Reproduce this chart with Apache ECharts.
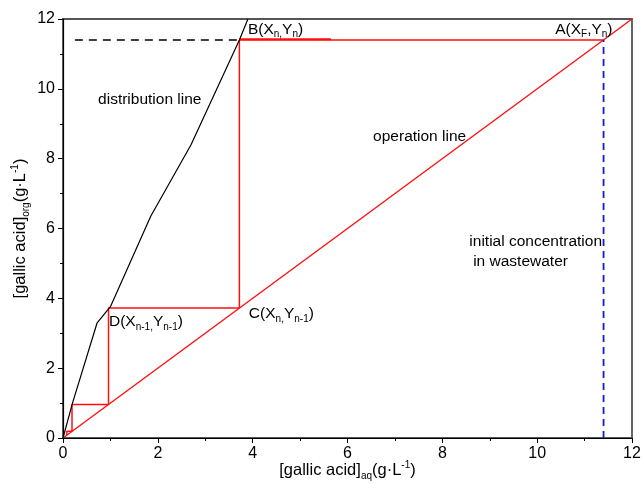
<!DOCTYPE html>
<html>
<head>
<meta charset="utf-8">
<script src="https://cdn.jsdelivr.net/npm/echarts@6/dist/echarts.min.js"></script>
<style>
  html, body { margin: 0; padding: 0; background: #fff; }
  #chart { width: 642px; height: 485px; }
</style>
</head>
<body>
<div id="chart"></div>
<script>
// distribution line (black)
const distLine = [[0, 0], [0.2, 1], [0.72, 3.3], [1.0, 3.76], [1.85, 6.35], [2.7, 8.4], [3.72, 11.4], [3.9, 12]]
// operation line (red diagonal)
const opLine = [[0, 0], [12, 12]]
// stage construction (red steps)
const steps = [[11.4, 11.4], [3.72, 11.4], [3.72, 3.72], [0.96, 3.72], [0.96, 0.96], [0.19, 0.96], [0.19, 0.19], [0.08, 0.19], [0.08, 0.08]]
const stepBold = [[3.72, 11.42], [5.65, 11.42]]
// dashed helpers
const yDash = [[0.25, 11.4], [3.72, 11.4]]
const xDash = [[11.4, 0], [11.4, 11.4]]
// text annotations
const notes = [
  { name: 'distribution line', value: [0.74, 9.68] },
  { name: 'operation line', value: [6.54, 8.62] },
  { name: 'B(X{sub|n,}Y{sub|n})', value: [3.9, 11.7] },
  { name: 'A(X{sub|F},Y{sub|n})', value: [10.38, 11.7] },
  { name: 'C(X{sub|n,}Y{sub|n-1})', value: [3.92, 3.55] },
  { name: 'D(X{sub|n-1,}Y{sub|n-1})', value: [0.97, 3.32] },
  { name: 'initial concentration', value: [8.57, 5.62] },
  { name: 'in wastewater', value: [8.65, 5.04] }
]

const font = 'Liberation Sans, Arial, sans-serif'
const myChart = echarts.init(document.getElementById('chart'))

const axisCommon = {
  type: 'value',
  min: 0,
  max: 12,
  interval: 2,
  axisLine: { show: true, lineStyle: { color: '#000', width: 1.2 } },
  axisTick: { show: true, inside: false, length: 5, lineStyle: { color: '#000' } },
  minorTick: { show: true, splitNumber: 2, length: 3, lineStyle: { color: '#000' } },
  splitLine: { show: false },
  axisLabel: { color: '#000', fontSize: 16, fontFamily: font },
  nameLocation: 'middle',
  nameMoveOverlap: false,
  nameTextStyle: {
    color: '#000', fontSize: 16.5, fontFamily: font,
    rich: {
      sub: { fontSize: 10, fontFamily: font, color: '#000', verticalAlign: 'bottom', padding: [11, 0, 0, 0] },
      sup: { fontSize: 10, fontFamily: font, color: '#000', verticalAlign: 'top', padding: [0, 0, 9, 0] }
    }
  }
}

const option = {
  animation: false,
  grid: {
    left: 63, right: 10, top: 19, bottom: 47,
    outerBoundsMode: 'none',
    containLabel: false,
    show: true, borderColor: '#555', borderWidth: 1.8
  },
  xAxis: Object.assign({}, axisCommon, {
    name: '[gallic acid]{sub|aq}(g·L{sup|-1})',
    nameGap: 22
  }),
  yAxis: Object.assign({}, axisCommon, {
    name: '[gallic acid]{sub|org}(g·L{sup|-1})',
    nameGap: 32
  }),
  series: [
    {
      type: 'line', data: opLine, symbol: 'none',
      lineStyle: { color: '#ff1010', width: 1.4 }
    },
    {
      type: 'line', data: steps, symbol: 'none',
      lineStyle: { color: '#ff1010', width: 1.5 }
    },
    {
      type: 'line', data: stepBold, symbol: 'none',
      lineStyle: { color: '#ff1010', width: 2 }
    },
    {
      type: 'line', data: distLine, symbol: 'none',
      lineStyle: { color: '#000', width: 1.2 }
    },
    {
      type: 'line', data: yDash, symbol: 'none',
      lineStyle: { color: '#000', width: 1.6, type: [8, 6] }
    },
    {
      type: 'line', data: xDash, symbol: 'none',
      lineStyle: { color: '#1a1ad0', width: 1.8, type: [7, 5] }
    },
    {
      type: 'scatter', data: notes, symbolSize: 0, z: 10,
      itemStyle: { opacity: 1 },
      label: {
        show: true, position: 'right', distance: 0,
        formatter: p => p.name,
        color: '#000', fontSize: 15.5, fontFamily: font,
        rich: {
          sub: { fontSize: 10, fontFamily: font, color: '#000', verticalAlign: 'bottom', padding: [10, 0, 0, 0] }
        }
      }
    }
  ]
}

option && myChart.setOption(option)
</script>
</body>
</html>
